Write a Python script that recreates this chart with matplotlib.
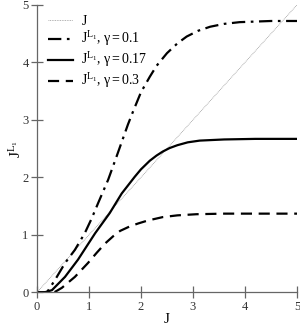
import matplotlib
matplotlib.use('Agg')
import matplotlib.pyplot as plt

plt.rcParams['font.family'] = ['Liberation Serif', 'DejaVu Serif']
plt.rcParams['mathtext.fontset'] = 'custom'
plt.rcParams['mathtext.rm'] = 'Liberation Serif'
plt.rcParams['mathtext.it'] = 'Liberation Serif:italic'

# valeurs
j_diag = [0, 5]

j_01 = [0, 0.1, 0.2, 0.35, 0.54, 0.73, 0.92, 1.05, 1.18, 1.37, 1.53, 1.75, 1.85, 2.0, 2.17, 2.3, 2.5, 2.7,
        2.88, 3.1, 3.33, 3.6, 3.9, 4.5, 5]
l_01 = [0, 0, 0.01, 0.22, 0.51, 0.74, 1.03, 1.28, 1.56, 1.96, 2.36, 2.92, 3.15, 3.48, 3.75, 3.94, 4.16, 4.33,
        4.45, 4.55, 4.62, 4.67, 4.70, 4.72, 4.72]

j_017 = [0, 0.15, 0.29, 0.54, 0.79, 1.12, 1.4, 1.63, 1.88, 2.0, 2.17, 2.3, 2.42, 2.55, 2.7, 2.9, 3.13,
         3.6, 4.2, 5]
l_017 = [0, 0, 0.04, 0.27, 0.57, 1.03, 1.38, 1.72, 2.01, 2.14, 2.29, 2.38, 2.45, 2.51, 2.56, 2.61, 2.64,
         2.66, 2.67, 2.67]

j_03 = [0, 0.33, 0.48, 0.73, 0.98, 1.15, 1.31, 1.47, 1.6, 1.79, 1.95, 2.13, 2.42, 2.7, 3.07, 3.6, 4.2, 5]
l_03 = [0, 0, 0.08, 0.27, 0.51, 0.69, 0.85, 0.98, 1.07, 1.15, 1.20, 1.25, 1.31, 1.34, 1.36, 1.37, 1.37, 1.37]

xticks = [0, 1, 2, 3, 4, 5]
yticks = [0, 1, 2, 3, 4, 5]

fig = plt.figure(figsize=(3.0, 3.26), dpi=100)
ax = fig.add_axes([0.123, 0.103, 0.867, 0.882])

ax.plot(j_diag, j_diag, color='#999999', lw=0.6, ls=(0, (1, 1)), label='J')
ax.plot(j_01, l_01, color='black', lw=1.6, ls=(0, (6, 2.5, 1.2, 2.5)),
        label=r'J$^{\mathrm{L}_1}$, $\mathrm{\gamma = 0.1}$')
ax.plot(j_017, l_017, color='black', lw=1.6, ls='-',
        label=r'J$^{\mathrm{L}_1}$, $\mathrm{\gamma = 0.17}$')
ax.plot(j_03, l_03, color='black', lw=1.6, ls=(0, (5, 3)),
        label=r'J$^{\mathrm{L}_1}$, $\mathrm{\gamma = 0.3}$')

ax.set_xlim(0, 5)
ax.set_ylim(0, 5)
ax.set_xticks(xticks)
ax.set_yticks(yticks)
ax.spines['top'].set_visible(False)
ax.spines['right'].set_visible(False)
for s in ['left', 'bottom']:
    ax.spines[s].set_color('#666666')
    ax.spines[s].set_linewidth(0.9)
ax.tick_params(direction='inout', length=8, width=0.9, color='#666666',
               labelsize=9, labelcolor='#333333', pad=2)

ax.set_xlabel('J', fontsize=11, labelpad=0)
ax.set_ylabel(r'J$^{\mathrm{L}_1}$', fontsize=11, labelpad=-1)

leg = ax.legend(loc='upper left', frameon=False, fontsize=10, handlelength=1.8,
                handletextpad=0.6, bbox_to_anchor=(-0.005, 1.01), labelspacing=0.15)

fig.savefig('out.png', dpi=100)
